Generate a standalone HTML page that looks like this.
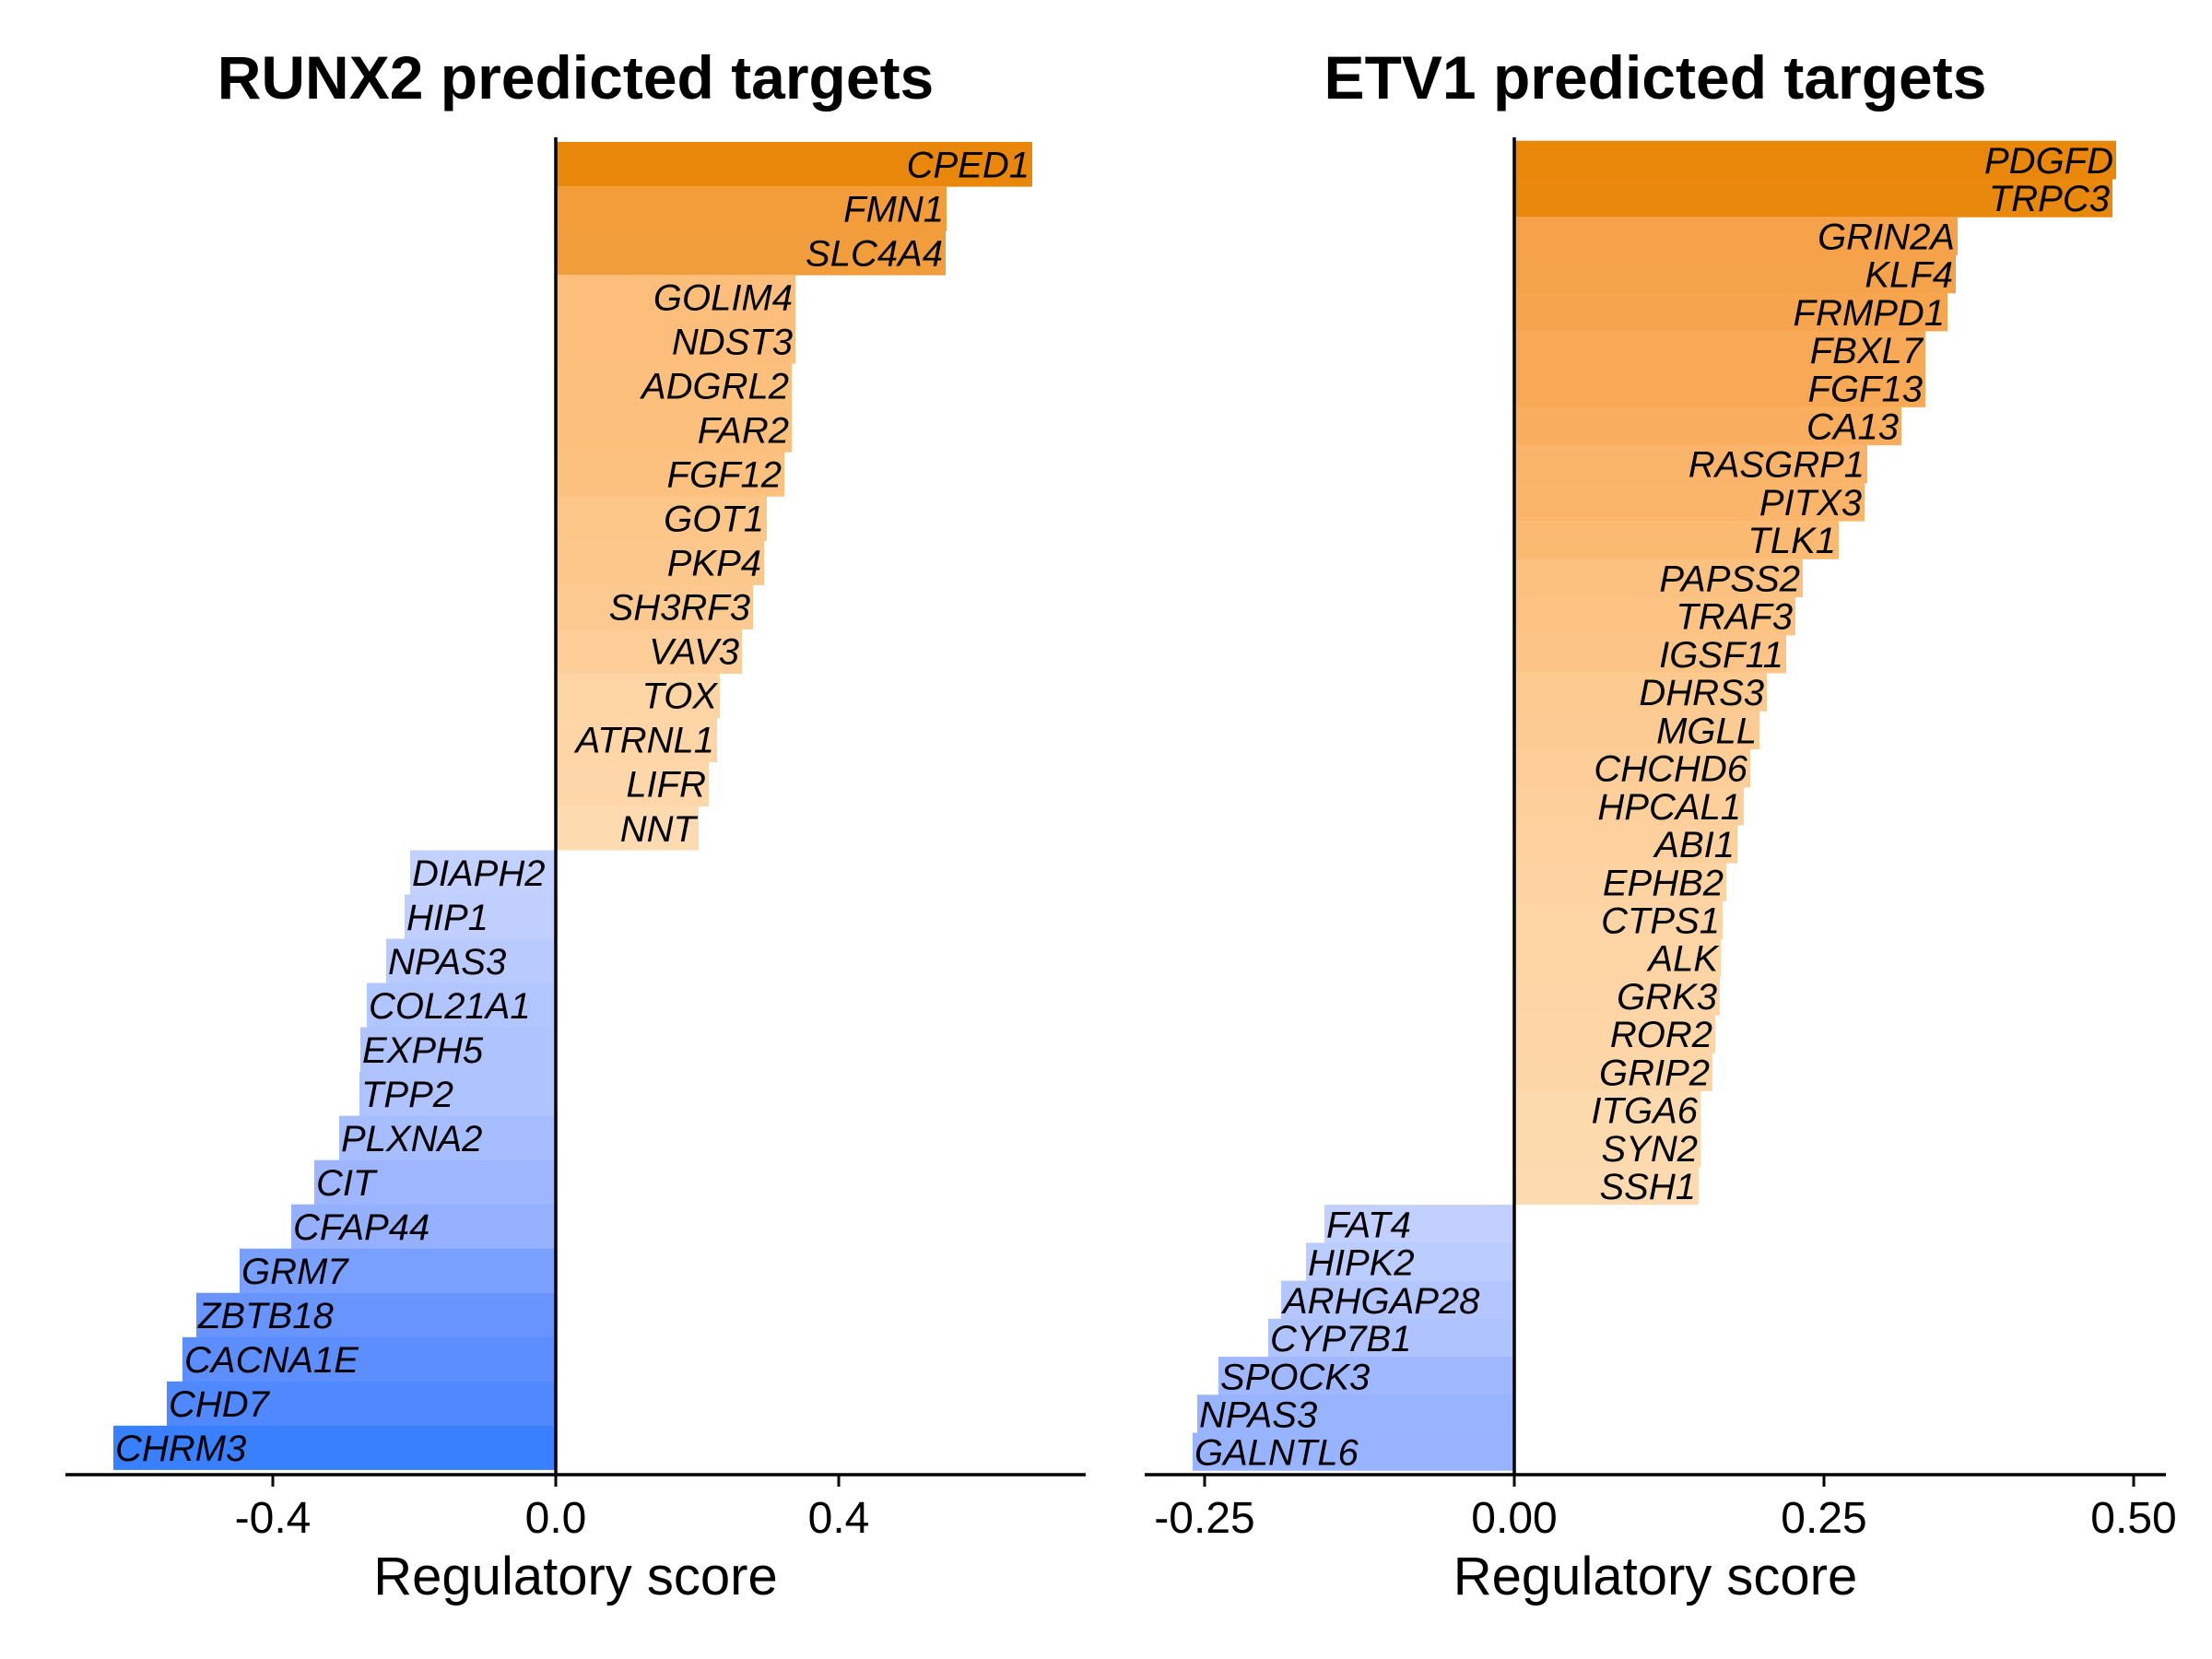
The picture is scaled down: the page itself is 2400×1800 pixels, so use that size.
<!DOCTYPE html>
<html>
<head>
<meta charset="utf-8">
<style>
html,body{margin:0;padding:0;background:#fff;}
svg{display:block;}
.lbl{font-family:"Liberation Sans",Arial,sans-serif;font-style:italic;font-size:40px;fill:#000;}
.tick{font-family:"Liberation Sans",Arial,sans-serif;font-size:48px;fill:#000;text-anchor:middle;}
.axl{font-family:"Liberation Sans",Arial,sans-serif;font-size:58px;fill:#000;text-anchor:middle;}
.ttl{font-family:"Liberation Sans",Arial,sans-serif;font-size:66px;font-weight:bold;fill:#000;text-anchor:middle;}
</style>
</head>
<body>
<svg width="2400" height="1800" viewBox="0 0 2400 1800" xmlns="http://www.w3.org/2000/svg">
<rect x="0" y="0" width="2400" height="1800" fill="#fff"/>

<!-- ===== LEFT: RUNX2 ===== -->
<text class="ttl" x="624.5" y="107">RUNX2 predicted targets</text>
<g>
<rect x="603" y="154" width="517" height="48.6" fill="#E8870A"/>
<rect x="603" y="202.03" width="424" height="48.6" fill="#F29D3A"/>
<rect x="603" y="250.06" width="423" height="48.6" fill="#F29D3B"/>
<rect x="603" y="298.09" width="260" height="48.6" fill="#FCBE7A"/>
<rect x="603" y="346.12" width="260" height="48.6" fill="#FCBE7A"/>
<rect x="603" y="394.15" width="256" height="48.6" fill="#FCBF7C"/>
<rect x="603" y="442.18" width="256" height="48.6" fill="#FCBF7C"/>
<rect x="603" y="490.21" width="248" height="48.6" fill="#FCC17F"/>
<rect x="603" y="538.24" width="229" height="48.6" fill="#FCC689"/>
<rect x="603" y="586.27" width="226" height="48.6" fill="#FCC78B"/>
<rect x="603" y="634.3" width="214" height="48.6" fill="#FCCA91"/>
<rect x="603" y="682.33" width="202" height="48.6" fill="#FCCD97"/>
<rect x="603" y="730.36" width="178" height="48.6" fill="#FDD4A4"/>
<rect x="603" y="778.39" width="175" height="48.6" fill="#FDD5A6"/>
<rect x="603" y="826.42" width="166" height="48.6" fill="#FDD7AA"/>
<rect x="603" y="874.45" width="155" height="48.03" fill="#FDDAB0"/>
<rect x="445" y="922.48" width="158" height="48.6" fill="#C2D1FF"/>
<rect x="439" y="970.51" width="164" height="48.6" fill="#C0CFFF"/>
<rect x="419" y="1018.54" width="184" height="48.6" fill="#B9CAFF"/>
<rect x="398" y="1066.57" width="205" height="48.6" fill="#B1C5FF"/>
<rect x="391" y="1114.6" width="212" height="48.6" fill="#AFC3FF"/>
<rect x="390" y="1162.63" width="213" height="48.6" fill="#AEC3FF"/>
<rect x="368" y="1210.66" width="235" height="48.6" fill="#A6BDFF"/>
<rect x="341" y="1258.69" width="262" height="48.6" fill="#9DB6FF"/>
<rect x="316" y="1306.72" width="287" height="48.6" fill="#94B0FF"/>
<rect x="260" y="1354.75" width="343" height="48.6" fill="#7AA0FF"/>
<rect x="213" y="1402.78" width="390" height="48.6" fill="#6794FF"/>
<rect x="198" y="1450.81" width="405" height="48.6" fill="#5C8EFF"/>
<rect x="181" y="1498.84" width="422" height="48.6" fill="#5089FF"/>
<rect x="123" y="1546.87" width="480" height="48.03" fill="#3880FF"/>
</g>
<g class="lbl" text-anchor="end">
<text x="1117" y="192.3">CPED1</text>
<text x="1024" y="240.3">FMN1</text>
<text x="1023" y="288.4">SLC4A4</text>
<text x="860" y="336.4">GOLIM4</text>
<text x="860" y="384.4">NDST3</text>
<text x="856" y="432.5">ADGRL2</text>
<text x="856" y="480.5">FAR2</text>
<text x="848" y="528.5">FGF12</text>
<text x="829" y="576.5">GOT1</text>
<text x="826" y="624.6">PKP4</text>
<text x="814" y="672.6">SH3RF3</text>
<text x="802" y="720.6">VAV3</text>
<text x="778" y="768.7">TOX</text>
<text x="775" y="816.7">ATRNL1</text>
<text x="766" y="864.7">LIFR</text>
<text x="755" y="912.8">NNT</text>
</g>
<g class="lbl" text-anchor="start">
<text x="447" y="960.8">DIAPH2</text>
<text x="441" y="1008.8">HIP1</text>
<text x="421" y="1056.8">NPAS3</text>
<text x="400" y="1104.9">COL21A1</text>
<text x="393" y="1152.9">EXPH5</text>
<text x="392" y="1200.9">TPP2</text>
<text x="370" y="1249">PLXNA2</text>
<text x="343" y="1297">CIT</text>
<text x="318" y="1345">CFAP44</text>
<text x="262" y="1393.1">GRM7</text>
<text x="215" y="1441.1">ZBTB18</text>
<text x="200" y="1489.1">CACNA1E</text>
<text x="183" y="1537.1">CHD7</text>
<text x="125" y="1585.2">CHRM3</text>
</g>
<line x1="603" y1="149" x2="603" y2="1600" stroke="#000" stroke-width="3.5"/>
<line x1="71" y1="1600" x2="1178" y2="1600" stroke="#000" stroke-width="3.6"/>
<g stroke="#000" stroke-width="3">
<line x1="296" y1="1600" x2="296" y2="1613"/>
<line x1="603" y1="1600" x2="603" y2="1613"/>
<line x1="910" y1="1600" x2="910" y2="1613"/>
</g>
<text class="tick" x="296" y="1663">-0.4</text>
<text class="tick" x="603" y="1663">0.0</text>
<text class="tick" x="910" y="1663">0.4</text>
<text class="axl" x="624.5" y="1730">Regulatory score</text>

<!-- ===== RIGHT: ETV1 ===== -->
<text class="ttl" x="1796" y="107">ETV1 predicted targets</text>
<g>
<rect x="1643" y="152.7" width="653" height="41.8" fill="#E8870A"/>
<rect x="1643" y="193.93" width="649" height="41.8" fill="#E8880C"/>
<rect x="1643" y="235.16" width="481" height="41.8" fill="#F5A24A"/>
<rect x="1643" y="276.39" width="479" height="41.8" fill="#F5A34A"/>
<rect x="1643" y="317.62" width="470" height="41.8" fill="#F6A44D"/>
<rect x="1643" y="358.85" width="446" height="41.8" fill="#F7A955"/>
<rect x="1643" y="400.08" width="446" height="41.8" fill="#F7A955"/>
<rect x="1643" y="441.31" width="420" height="41.8" fill="#F8AE5D"/>
<rect x="1643" y="482.54" width="383" height="41.8" fill="#FAB469"/>
<rect x="1643" y="523.77" width="380" height="41.8" fill="#FAB56A"/>
<rect x="1643" y="565.0" width="352" height="41.8" fill="#FBBA72"/>
<rect x="1643" y="606.23" width="313" height="41.8" fill="#FCC17F"/>
<rect x="1643" y="647.46" width="305" height="41.8" fill="#FCC383"/>
<rect x="1643" y="688.69" width="295" height="41.8" fill="#FCC587"/>
<rect x="1643" y="729.92" width="274" height="41.8" fill="#FCC98F"/>
<rect x="1643" y="771.15" width="266" height="41.8" fill="#FCCB93"/>
<rect x="1643" y="812.38" width="256" height="41.8" fill="#FCCD97"/>
<rect x="1643" y="853.61" width="249" height="41.8" fill="#FDCF9A"/>
<rect x="1643" y="894.84" width="242" height="41.8" fill="#FDD09D"/>
<rect x="1643" y="936.07" width="230" height="41.8" fill="#FDD3A2"/>
<rect x="1643" y="977.3" width="226" height="41.8" fill="#FDD4A4"/>
<rect x="1643" y="1018.53" width="224" height="41.8" fill="#FDD4A4"/>
<rect x="1643" y="1059.76" width="223" height="41.8" fill="#FDD4A5"/>
<rect x="1643" y="1100.99" width="218" height="41.8" fill="#FDD5A7"/>
<rect x="1643" y="1142.22" width="215" height="41.8" fill="#FDD6A8"/>
<rect x="1643" y="1183.45" width="202" height="41.8" fill="#FDD9AE"/>
<rect x="1643" y="1224.68" width="202" height="41.8" fill="#FDD9AE"/>
<rect x="1643" y="1265.91" width="200" height="41.23" fill="#FDDAAF"/>
<rect x="1437" y="1307.14" width="206" height="41.8" fill="#C1D0FF"/>
<rect x="1417" y="1348.37" width="226" height="41.8" fill="#BBCCFF"/>
<rect x="1390" y="1389.6" width="253" height="41.8" fill="#B3C6FF"/>
<rect x="1376" y="1430.83" width="267" height="41.8" fill="#AFC3FF"/>
<rect x="1322" y="1472.06" width="321" height="41.8" fill="#A0B8FF"/>
<rect x="1299" y="1513.29" width="344" height="41.8" fill="#99B4FF"/>
<rect x="1294" y="1554.52" width="349" height="41.23" fill="#98B3FF"/>
</g>
<g class="lbl" text-anchor="end">
<text x="2293" y="187.9">PDGFD</text>
<text x="2289" y="229.1">TRPC3</text>
<text x="2121" y="270.4">GRIN2A</text>
<text x="2119" y="311.6">KLF4</text>
<text x="2110" y="352.8">FRMPD1</text>
<text x="2086" y="394.1">FBXL7</text>
<text x="2086" y="435.3">FGF13</text>
<text x="2060" y="476.5">CA13</text>
<text x="2023" y="517.7">RASGRP1</text>
<text x="2020" y="559">PITX3</text>
<text x="1992" y="600.2">TLK1</text>
<text x="1953" y="641.4">PAPSS2</text>
<text x="1945" y="682.7">TRAF3</text>
<text x="1935" y="723.9">IGSF11</text>
<text x="1914" y="765.1">DHRS3</text>
<text x="1906" y="806.4">MGLL</text>
<text x="1896" y="847.6">CHCHD6</text>
<text x="1889" y="888.8">HPCAL1</text>
<text x="1882" y="930">ABI1</text>
<text x="1870" y="971.3">EPHB2</text>
<text x="1866" y="1012.5">CTPS1</text>
<text x="1864" y="1053.7">ALK</text>
<text x="1863" y="1095">GRK3</text>
<text x="1858" y="1136.2">ROR2</text>
<text x="1855" y="1177.4">GRIP2</text>
<text x="1842" y="1218.7">ITGA6</text>
<text x="1842" y="1259.9">SYN2</text>
<text x="1840" y="1301.1">SSH1</text>
</g>
<g class="lbl" text-anchor="start">
<text x="1439" y="1342.3">FAT4</text>
<text x="1419" y="1383.6">HIPK2</text>
<text x="1392" y="1424.8">ARHGAP28</text>
<text x="1378" y="1466">CYP7B1</text>
<text x="1324" y="1507.3">SPOCK3</text>
<text x="1301" y="1548.5">NPAS3</text>
<text x="1296" y="1589.7">GALNTL6</text>
</g>
<line x1="1643" y1="149" x2="1643" y2="1600" stroke="#000" stroke-width="3.5"/>
<line x1="1242" y1="1600" x2="2350" y2="1600" stroke="#000" stroke-width="3.6"/>
<g stroke="#000" stroke-width="3">
<line x1="1307" y1="1600" x2="1307" y2="1613"/>
<line x1="1643" y1="1600" x2="1643" y2="1613"/>
<line x1="1979" y1="1600" x2="1979" y2="1613"/>
<line x1="2315" y1="1600" x2="2315" y2="1613"/>
</g>
<text class="tick" x="1307" y="1663">-0.25</text>
<text class="tick" x="1643" y="1663">0.00</text>
<text class="tick" x="1979" y="1663">0.25</text>
<text class="tick" x="2315" y="1663">0.50</text>
<text class="axl" x="1796" y="1730">Regulatory score</text>
</svg>
</body>
</html>
